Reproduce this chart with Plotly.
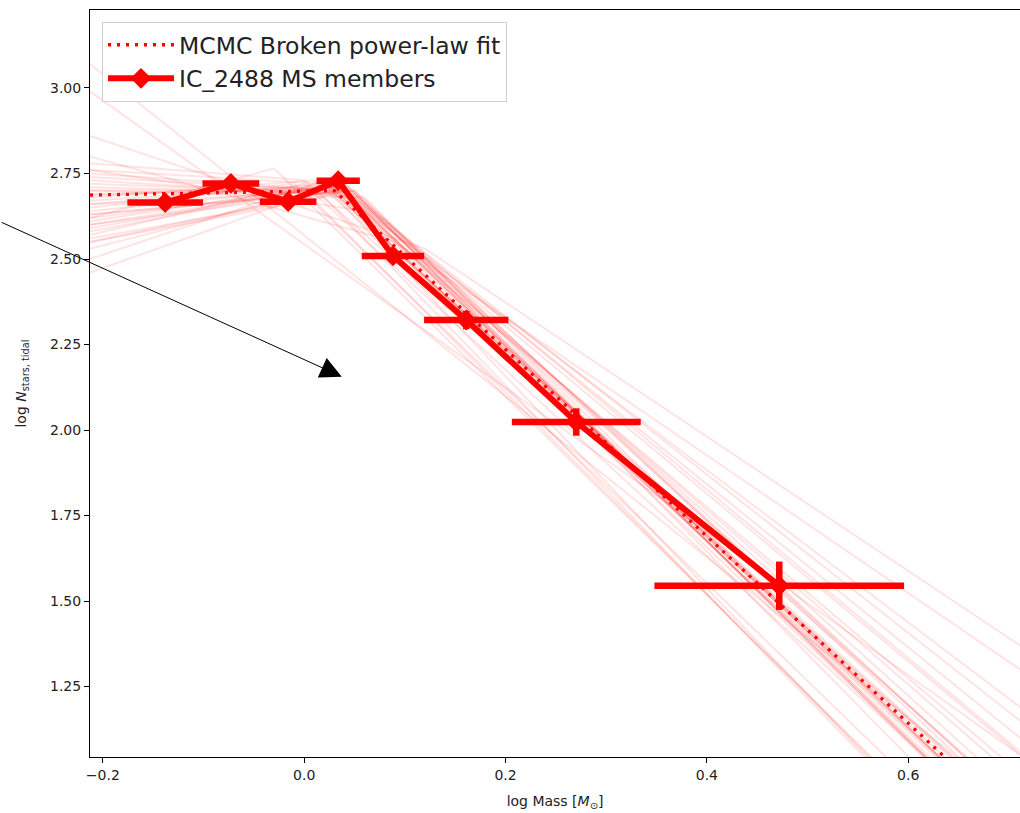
import plotly.graph_objects as go

# ---- data ----
mass_x = [-0.138, -0.0728, -0.0159, 0.0338, 0.0882, 0.161, 0.2703, 0.4719]
log_n = [2.665, 2.721, 2.6675, 2.729, 2.509, 2.3216, 2.0234, 1.5447]
mass_err = [0.0376, 0.0282, 0.0281, 0.0215, 0.031, 0.0419, 0.064, 0.124]
log_n_err = [0.015, 0.015, 0.015, 0.015, 0.018, 0.027, 0.040, 0.0707]

fit_x = [-0.2127, 0.030, 0.711]
fit_y = [2.687, 2.700, 0.8396]

# MCMC sample broken power laws: value at left edge, break point, value at right edge
samp_left_x = -0.2127
samp_right_x = 0.711
samp_yL = [2.687, 2.62, 2.60, 2.66, 2.72, 2.58, 2.55, 2.68, 2.70, 2.64, 2.76, 2.78, 2.73,
           2.61, 2.56, 2.46, 2.50, 3.07, 2.99, 2.62, 2.86, 2.80, 2.76, 2.70, 2.66, 2.63,
           2.60, 2.55, 2.65, 2.74, 2.69, 2.67, 2.71, 2.63, 2.59, 2.75, 2.53, 2.57]
samp_xb = [0.035, 0.03, 0.04, 0.02, 0.05, 0.035, 0.045, 0.01, 0.04, 0.03, 0.02, 0.00, 0.06,
           0.03, 0.05, 0.035, 0.02, -0.2127, -0.2127, -0.03, 0.12, 0.09, 0.06, 0.05, 0.04, 0.045,
           0.00, 0.02, -0.01, 0.025, 0.035, 0.04, 0.03, 0.05, 0.025, 0.03, 0.04, 0.00]
samp_yb = [2.707, 2.71, 2.70, 2.72, 2.69, 2.72, 2.71, 2.73, 2.70, 2.71, 2.72, 2.73, 2.68,
           2.72, 2.70, 2.72, 2.73, 3.07, 2.99, 2.765, 2.53, 2.55, 2.64, 2.68, 2.70, 2.70,
           2.70, 2.68, 2.72, 2.70, 2.71, 2.72, 2.69, 2.70, 2.715, 2.70, 2.72, 2.72]
samp_yR = [0.821, 0.837, 0.788, 0.854, 0.773, 0.929, 0.712, 0.907, 0.821, 0.973, 0.820, 0.867, 0.760,
           1.052, 0.816, 0.895, 0.809, 0.896, 1.05, 0.616, 1.37, 1.30, 1.19, 1.15, 1.10, 1.06,
           0.603, 0.572, 0.665, 0.573, 0.817, 0.895, 0.865, 0.876, 0.780, 0.997, 0.774, 0.786]

x_ticks = [-0.2, 0.0, 0.2, 0.4, 0.6]
y_ticks = [1.25, 1.50, 1.75, 2.00, 2.25, 2.50, 2.75, 3.00]

# arrow annotation (tip in data coords, tail offset in pixels)
arrow_tip = (0.0374, 2.156)
arrow_tail_px = (-341.7, -155.0)

FONT = "DejaVu Sans"

fig = go.Figure()

for yl, xb, yb, yr in zip(samp_yL, samp_xb, samp_yb, samp_yR):
    fig.add_trace(go.Scatter(
        x=[samp_left_x, xb, samp_right_x], y=[yl, yb, yr], mode="lines",
        line=dict(color="rgba(255,0,0,0.11)", width=2),
        showlegend=False, hoverinfo="skip"))

fig.add_trace(go.Scatter(
    x=fit_x, y=fit_y, mode="lines", name="MCMC Broken power-law fit",
    line=dict(color="red", width=3.3, dash="3px,6px")))

fig.add_trace(go.Scatter(
    x=mass_x, y=log_n, mode="lines+markers", name="IC_2488 MS members",
    line=dict(color="red", width=6),
    marker=dict(symbol="diamond", size=16, color="red"),
    error_x=dict(type="data", array=mass_err, color="red", thickness=6.5, width=0),
    error_y=dict(type="data", array=log_n_err, color="red", thickness=6.5, width=0)))

fig.add_annotation(
    x=arrow_tip[0], y=arrow_tip[1], ax=arrow_tail_px[0], ay=arrow_tail_px[1],
    xref="x", yref="y", text="", showarrow=True,
    arrowhead=2, arrowsize=4.3, arrowwidth=1, arrowcolor="black")

axis_common = dict(
    showline=True, linecolor="black", linewidth=1, ticks="outside", ticklen=5,
    tickwidth=1, tickcolor="black", showgrid=False, zeroline=False,
    tickfont=dict(family=FONT, size=14, color="#222"),
)

fig.update_xaxes(
    range=[-0.2127, 0.711], tickvals=x_ticks, tickformat=".1f", mirror=True,
    title=dict(text="log Mass [<i>M</i><sub>⊙</sub>]", font=dict(family=FONT, size=14, color="#222"), standoff=14),
    **axis_common)
fig.update_yaxes(
    range=[1.044, 3.228], tickvals=y_ticks, tickformat=".2f", mirror=False,
    title=dict(text="log <i>N</i><sub>stars, tidal</sub>", font=dict(family=FONT, size=14, color="#222"), standoff=20),
    **axis_common)

fig.update_layout(
    width=1020, height=813,
    margin=dict(l=90, r=0, t=10, b=56, autoexpand=False),
    paper_bgcolor="white", plot_bgcolor="white",
    font=dict(family=FONT, color="#222"),
    legend=dict(x=0.0129, y=0.984, xanchor="left", yanchor="top",
                bgcolor="rgba(255,255,255,0.8)", bordercolor="#d0d0d0", borderwidth=1,
                itemwidth=66,
                font=dict(family=FONT, size=23.5, color="#222"), tracegroupgap=0),
    showlegend=True,
)

fig.write_html("out.html")
